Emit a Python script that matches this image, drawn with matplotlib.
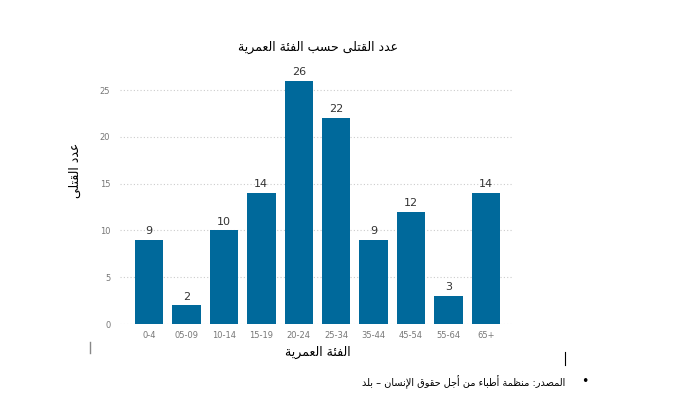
import matplotlib
matplotlib.use("Agg")
import matplotlib.pyplot as plt

# data
categories = ["0-4", "05-09", "10-14", "15-19", "20-24", "25-34", "35-44", "45-54", "55-64", "65+"]
killed = [9, 2, 10, 14, 26, 22, 9, 12, 3, 14]
yticks = [0, 5, 10, 15, 20, 25]

title = "عدد القتلى حسب الفئة العمرية"
xlabel = "الفئة العمرية"
ylabel = "عدد القتلى"
source = "المصدر: منظمة أطباء من أجل حقوق الإنسان – بلد"

# arabic presentation forms: base char -> (isolated code, number of forms)
FORMS = {
    "ء": (0xFE80, 1), "أ": (0xFE83, 2), "إ": (0xFE87, 2), "ئ": (0xFE89, 4),
    "ا": (0xFE8D, 2), "ب": (0xFE8F, 4), "ة": (0xFE93, 2), "ت": (0xFE95, 4),
    "ج": (0xFE9D, 4), "ح": (0xFEA1, 4), "د": (0xFEA9, 2), "ر": (0xFEAD, 2),
    "س": (0xFEB1, 4), "ص": (0xFEB9, 4), "ط": (0xFEC1, 4), "ظ": (0xFEC5, 4),
    "ع": (0xFEC9, 4), "ف": (0xFED1, 4), "ق": (0xFED5, 4), "ل": (0xFEDD, 4),
    "م": (0xFEE1, 4), "ن": (0xFEE5, 4), "و": (0xFEED, 2), "ى": (0xFEEF, 2),
    "ي": (0xFEF1, 4),
}
LAM_ALEF = {"ا": 0xFEFB, "أ": 0xFEF7, "إ": 0xFEF9}


def shape(text):
    """crude arabic shaping + reversal for rtl display"""
    chars = list(text)
    # lam-alef ligatures
    merged = []
    i = 0
    while i < len(chars):
        if chars[i] == "ل" and i + 1 < len(chars) and chars[i + 1] in LAM_ALEF:
            merged.append(("LA", chars[i + 1]))
            i += 2
        else:
            merged.append(chars[i])
            i += 1

    def joins_next(c):
        # can this char connect to the following one
        if isinstance(c, tuple):
            return False
        return c in FORMS and FORMS[c][1] == 4

    def joins_prev(c):
        if isinstance(c, tuple):
            return True
        return c in FORMS and FORMS[c][1] >= 2

    out = []
    for k, c in enumerate(merged):
        prev = merged[k - 1] if k > 0 else None
        nxt = merged[k + 1] if k + 1 < len(merged) else None
        link_prev = prev is not None and joins_next(prev) and joins_prev(c)
        if isinstance(c, tuple):
            base = LAM_ALEF[c[1]]
            out.append(chr(base + (1 if link_prev else 0)))
            continue
        if c not in FORMS:
            out.append(c)
            continue
        code, n = FORMS[c]
        link_next = nxt is not None and joins_next(c) and joins_prev(nxt)
        if n == 4 and link_prev and link_next:
            out.append(chr(code + 3))
        elif n == 4 and link_next:
            out.append(chr(code + 2))
        elif n >= 2 and link_prev:
            out.append(chr(code + 1))
        else:
            out.append(chr(code))
    return "".join(reversed(out))


plt.rcParams["font.family"] = ["DejaVu Sans"]

fig = plt.figure(figsize=(6.87, 3.95), dpi=100)
ax = fig.add_axes([120 / 687, 1 - 324 / 395, 392 / 687, 262 / 395])

x = range(len(categories))
bars = ax.bar(x, killed, width=0.76, color="#00699b", zorder=2)
for b, v in zip(bars, killed):
    ax.text(b.get_x() + b.get_width() / 2, v + 0.4, str(v), ha="center", va="bottom",
            fontsize=8, color="#333333")

ax.set_xlim(-0.78, 9.7)
ax.set_ylim(0, 28)
ax.set_xticks(list(x))
ax.set_xticklabels(categories)
ax.set_yticks(yticks)
ax.tick_params(axis="both", length=0, labelsize=6, labelcolor="#777777")
ax.tick_params(axis="y", pad=7)
ax.tick_params(axis="x", pad=5)
for s in ax.spines.values():
    s.set_visible(False)
ax.yaxis.grid(True, linestyle=(0, (1, 2)), color="#cccccc", linewidth=0.8, zorder=0)

fig.text(318 / 687, 1 - 47 / 395, shape(title), ha="center", va="center", fontsize=9)
fig.text(318 / 687, 1 - 352 / 395, shape(xlabel), ha="center", va="center", fontsize=9)
fig.text(75 / 687, 1 - 170 / 395, shape(ylabel), ha="center", va="center", fontsize=9,
         rotation=90)
fig.text(565 / 687, 1 - 382 / 395, shape(source), ha="right", va="center", fontsize=7)
fig.text(585 / 687, 1 - 382 / 395, "•", ha="center", va="center", fontsize=9)

# stray cursor marks from the source document
fig.add_artist(plt.Line2D([90 / 687, 90 / 687], [1 - 342 / 395, 1 - 353 / 395],
                          color="#888888", linewidth=1))
fig.add_artist(plt.Line2D([565 / 687, 565 / 687], [1 - 352 / 395, 1 - 365 / 395],
                          color="black", linewidth=0.8))

fig.savefig("out.png", dpi=100)
